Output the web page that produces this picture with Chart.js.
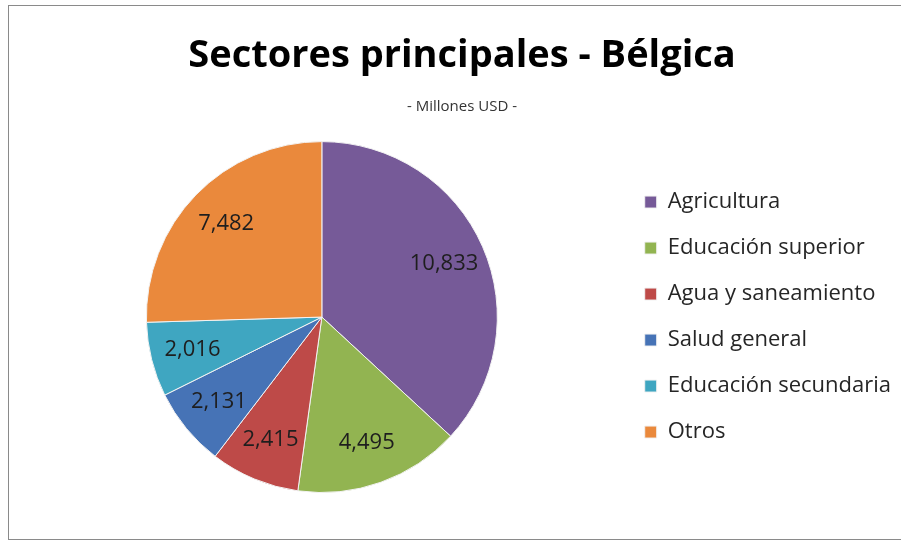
<!DOCTYPE html>
<html>
<head>
<meta charset="utf-8">
<script src="https://cdn.jsdelivr.net/npm/chart.js"></script>
<style>
  html, body { margin: 0; padding: 0; background: #fff; }
  #wrap { position: relative; width: 901px; height: 544px; overflow: hidden; }
  #frame { position: absolute; left: 8px; top: 5px; width: 900px; height: 533px; border: 1px solid #8a8a8a; }
  #chart { position: absolute; left: 0; top: 0; }
</style>
</head>
<body>
<div id="wrap">
  <div id="frame"></div>
  <canvas id="chart" width="901" height="544"></canvas>
</div>
<script>
    const categories = ['Agricultura', 'Educación superior', 'Agua y saneamiento', 'Salud general', 'Educación secundaria', 'Otros'];
    const values = [10833, 4495, 2415, 2131, 2016, 7482];
    const sliceColors = ['#765a98', '#92b451', '#be4a48', '#4673b6', '#3fa6c1', '#ea893c'];

    const titleText = 'Sectores principales - Bélgica';
    const subtitleText = '- Millones USD -';

    // value labels inside the slices, like excel's data labels
    const sliceLabels = {
        id: 'sliceLabels',
        afterDatasetsDraw(chart) {
            const ctx = chart.ctx;
            const meta = chart.getDatasetMeta(0);
            ctx.save();
            ctx.font = '22px "Open Sans"';
            ctx.fillStyle = '#1e1e1e';
            ctx.textAlign = 'center';
            ctx.textBaseline = 'middle';
            meta.data.forEach(function(arc, i) {
                const p = arc.getProps(['x', 'y', 'startAngle', 'endAngle', 'outerRadius'], true);
                const mid = (p.startAngle + p.endAngle) / 2;
                const r = p.outerRadius * 0.76;
                ctx.fillText(values[i].toLocaleString('en-US'), p.x + Math.cos(mid) * r, p.y + Math.sin(mid) * r);
            });
            ctx.restore();
        }
    };

    new Chart(document.getElementById('chart'), {
        type: 'pie',
        data: {
            labels: categories,
            datasets: [{
                data: values,
                backgroundColor: sliceColors,
                borderColor: '#f2f2f2',
                borderWidth: 1
            }]
        },
        options: {
            responsive: false,
            animation: false,
            layout: {
                padding: { top: 0, bottom: 51, left: 23, right: 0 }
            },
            plugins: {
                title: {
                    display: true,
                    text: titleText,
                    color: '#000',
                    font: { family: '"Open Sans"', size: 38, weight: 'bold', lineHeight: 1.2 },
                    padding: { top: 33.5, bottom: 4 }
                },
                subtitle: {
                    display: true,
                    text: subtitleText,
                    color: '#333',
                    font: { family: '"Open Sans"', size: 15, lineHeight: 1.2 },
                    padding: { top: 15, bottom: 25 }
                },
                legend: {
                    position: 'right',
                    fullSize: false,
                    labels: {
                        boxWidth: 12,
                        boxHeight: 12,
                        padding: 24,
                        color: '#262626',
                        font: { family: '"Open Sans"', size: 22 }
                    }
                },
                tooltip: { enabled: false }
            }
        },
        plugins: [sliceLabels]
    });
</script>
</body>
</html>
